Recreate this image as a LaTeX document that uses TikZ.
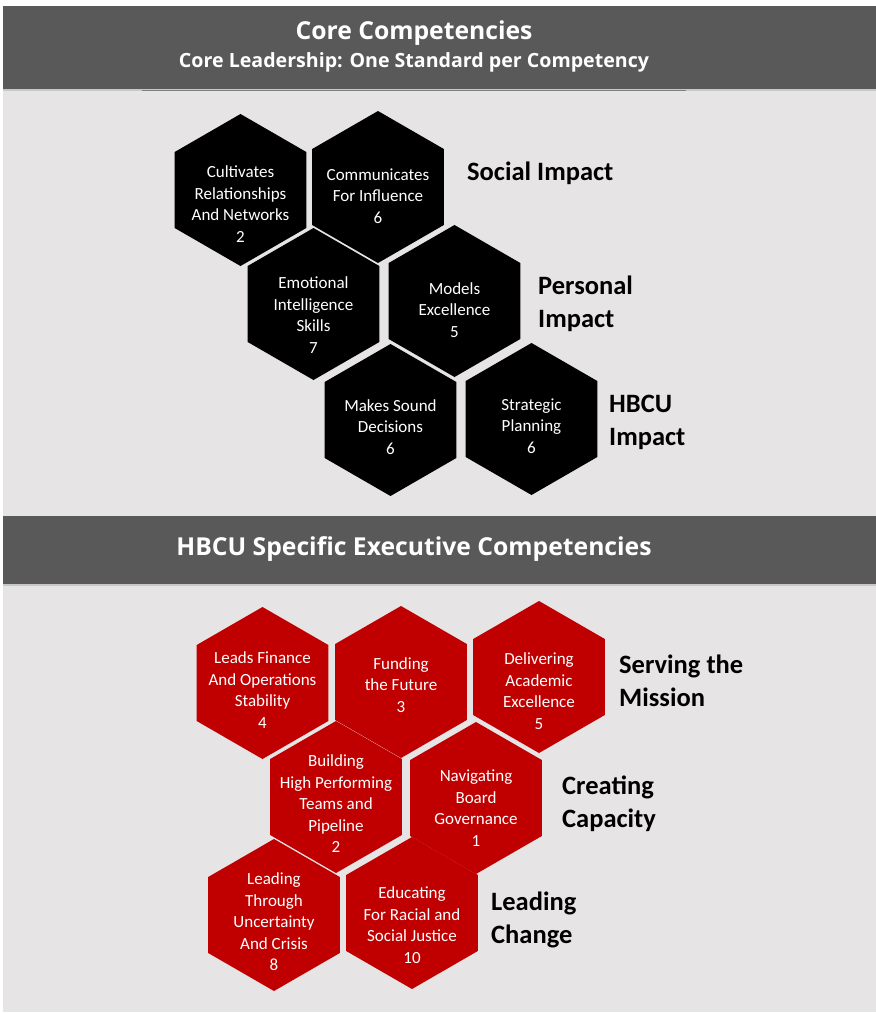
\documentclass[tikz,border=0pt]{standalone}
\usepackage{fontspec}
\setmainfont{Carlito}
\newfontfamily\headfont{Open Sans}
\usetikzlibrary{shapes.geometric}

\definecolor{barGray}{HTML}{595959}
\definecolor{panelGray}{HTML}{E6E4E5}
\definecolor{edgeGray}{HTML}{C9C8C8}
\definecolor{hexRed}{HTML}{C00000}

\tikzset{
    hex/.style={regular polygon, regular polygon sides=6, shape border rotate=30,
        minimum size=152pt, inner sep=0pt, outer sep=0pt},
    hexblack/.style={hex, fill=black},
    hexred/.style={hex, fill=hexRed},
    hextext/.style={text=white, align=center, inner sep=0pt, yshift=-7pt,
        font=\fontsize{17}{21.5}\selectfont},
    impact/.style={anchor=west, align=left, inner sep=0pt,
        font=\fontsize{26.5}{33}\selectfont\bfseries},
    barhead/.style={text=white, inner sep=0pt, font=\headfont\bfseries\fontsize{24.7}{28}\selectfont},
    barsub/.style={text=white, inner sep=0pt, font=\headfont\bfseries\fontsize{19.6}{23}\selectfont}
}

\begin{document}
\begin{tikzpicture}[x=1pt,y=-1pt]
    \useasboundingbox (0,0) rectangle (876,1013);
    \fill[white] (0,0) rectangle (876,1013);
    \fill[panelGray] (3,6) rectangle (876,1012);

    % header bars
    \fill[barGray] (3,6) rectangle (876,89);
    \fill[edgeGray] (3,89) rectangle (876,91);
    \draw[gray,line width=1pt] (142,90) -- (686,90);
    \fill[barGray] (3,516) rectangle (876,584);
    \fill[edgeGray] (3,584) rectangle (876,586);

    \node[barhead] (coreTitle) at (414,33) {Core Competencies};
    \node[barsub] (coreSub) at (414,62) {Core Leadership: One Standard per Competency};
    \node[barhead] (hbcuTitle) at (414,549) {HBCU Specific Executive Competencies};

    % core leadership hexagons
    \node[hexblack, label={[hextext,yshift=-7pt]center:{Cultivates\\Relationships\\And Networks\\2}}] (cultivates) at (240.5,190) {};
    \node[hexblack, label={[hextext,yshift=-2pt]center:{Communicates\\For Influence\\6}}] (communicates) at (378,187) {};
    \node[hexblack, label={[hextext,yshift=-4pt]center:{Emotional\\Intelligence\\Skills\\7}}] (emotional) at (313.5,304) {};
    \node[hexblack, label={[hextext,yshift=-2pt]center:{Models\\Excellence\\5}}] (models) at (454.5,301) {};
    \node[hexblack, label={[hextext]center:{Makes Sound\\Decisions\\6}}] (decisions) at (390.5,420) {};
    \node[hexblack, label={[hextext]center:{Strategic\\Planning\\6}}] (strategic) at (531.5,419) {};

    \node[impact] (social) at (467,173) {Social Impact};
    \node[impact] (personal) at (538,304) {Personal\\Impact};
    \node[impact] (hbcuImpact) at (609,422) {HBCU\\Impact};

    % HBCU specific hexagons
    \node[hexred, label={[hextext]center:{Leads Finance\\And Operations\\Stability\\4}}] (finance) at (262.5,683) {};
    \node[hexred, label={[hextext,yshift=4pt]center:{Funding\\the Future\\3}}] (funding) at (401,682) {};
    \node[hexred, label={[hextext,yshift=-7pt]center:{Delivering\\Academic\\Excellence\\5}}] (academic) at (539,677) {};
    \node[hexred, label={[hextext]center:{Building\\High Performing\\Teams and\\Pipeline\\2}}] (teams) at (336,797) {};
    \node[hexred, label={[hextext,yshift=-3pt]center:{Navigating\\Board\\Governance\\1}}] (board) at (476,798) {};
    \node[hexred, label={[hextext]center:{Leading\\Through\\Uncertainty\\And Crisis\\8}}] (crisis) at (274,915) {};
    \node[hexred, label={[hextext,yshift=-5pt]center:{Educating\\For Racial and\\Social Justice\\10}}] (justice) at (412,913) {};

    \node[impact] (mission) at (619,681) {Serving the\\Mission};
    \node[impact] (capacity) at (562,804) {Creating\\Capacity};
    \node[impact] (change) at (491,920) {Leading\\Change};
\end{tikzpicture}
\end{document}
